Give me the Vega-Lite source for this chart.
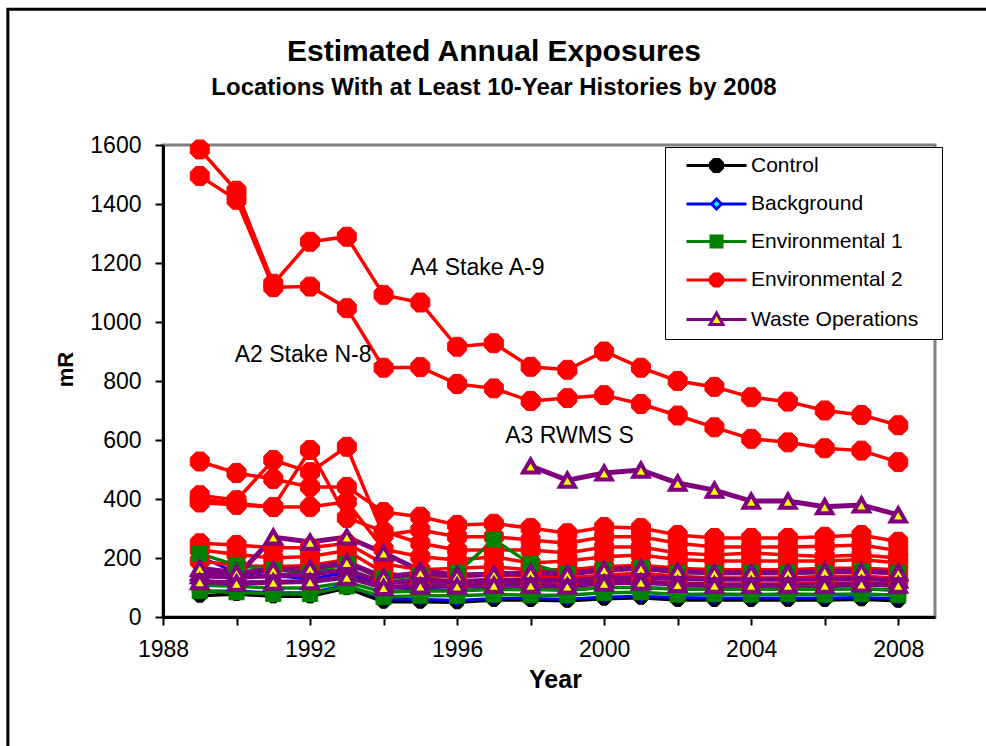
{
  "$schema": "https://vega.github.io/schema/vega-lite/v6.json",
  "width": 772,
  "height": 472,
  "autosize": {"type": "none"},
  "padding": {"left": 163, "top": 145, "right": 51, "bottom": 129},
  "background": "white",
  "title": {
    "text": "Estimated Annual Exposures",
    "subtitle": "Locations With at Least 10-Year Histories by 2008",
    "font": "Liberation Sans",
    "subtitleFont": "Liberation Sans",
    "fontSize": 30,
    "subtitleFontSize": 24,
    "fontWeight": "bold",
    "subtitleFontWeight": "bold",
    "color": "black",
    "subtitleColor": "black",
    "anchor": "middle",
    "dx": -55,
    "offset": -92,
    "subtitlePadding": 9
  },
  "config": {
    "view": {"stroke": "#808080", "strokeWidth": 3},
    "axis": {
      "grid": false,
      "domainColor": "black",
      "domainWidth": 3,
      "tickColor": "black",
      "tickWidth": 2,
      "tickSize": 8,
      "labelFont": "Liberation Sans",
      "labelFontSize": 23,
      "labelColor": "black",
      "titleFont": "Liberation Sans",
      "titleFontSize": 25,
      "titleFontWeight": "bold",
      "titleColor": "black",
      "labelOverlap": false,
      "labelFlush": false
    }
  },
  "data": {"values": [
    {"s":"C1","g":"Control","year":1989,"mR":72},{"s":"C1","g":"Control","year":1990,"mR":78},{"s":"C1","g":"Control","year":1991,"mR":70},{"s":"C1","g":"Control","year":1992,"mR":70},{"s":"C1","g":"Control","year":1993,"mR":98},{"s":"C1","g":"Control","year":1994,"mR":52},{"s":"C1","g":"Control","year":1995,"mR":52},{"s":"C1","g":"Control","year":1996,"mR":50},{"s":"C1","g":"Control","year":1997,"mR":58},{"s":"C1","g":"Control","year":1998,"mR":58},{"s":"C1","g":"Control","year":1999,"mR":55},{"s":"C1","g":"Control","year":2000,"mR":62},{"s":"C1","g":"Control","year":2001,"mR":65},{"s":"C1","g":"Control","year":2002,"mR":58},{"s":"C1","g":"Control","year":2003,"mR":58},{"s":"C1","g":"Control","year":2004,"mR":58},{"s":"C1","g":"Control","year":2005,"mR":58},{"s":"C1","g":"Control","year":2006,"mR":58},{"s":"C1","g":"Control","year":2007,"mR":60},{"s":"C1","g":"Control","year":2008,"mR":55},
    {"s":"B1","g":"Background","year":1989,"mR":205},{"s":"B1","g":"Background","year":1990,"mR":150},{"s":"B1","g":"Background","year":1991,"mR":140},{"s":"B1","g":"Background","year":1992,"mR":130},{"s":"B1","g":"Background","year":1993,"mR":150},{"s":"B1","g":"Background","year":1994,"mR":100},{"s":"B1","g":"Background","year":1995,"mR":95},{"s":"B1","g":"Background","year":1996,"mR":90},{"s":"B1","g":"Background","year":1997,"mR":95},{"s":"B1","g":"Background","year":1998,"mR":95},{"s":"B1","g":"Background","year":1999,"mR":90},{"s":"B1","g":"Background","year":2000,"mR":100},{"s":"B1","g":"Background","year":2001,"mR":100},{"s":"B1","g":"Background","year":2002,"mR":95},{"s":"B1","g":"Background","year":2003,"mR":95},{"s":"B1","g":"Background","year":2004,"mR":95},{"s":"B1","g":"Background","year":2005,"mR":95},{"s":"B1","g":"Background","year":2006,"mR":95},{"s":"B1","g":"Background","year":2007,"mR":95},{"s":"B1","g":"Background","year":2008,"mR":90},
    {"s":"B2","g":"Background","year":1989,"mR":88},{"s":"B2","g":"Background","year":1990,"mR":88},{"s":"B2","g":"Background","year":1991,"mR":82},{"s":"B2","g":"Background","year":1992,"mR":82},{"s":"B2","g":"Background","year":1993,"mR":108},{"s":"B2","g":"Background","year":1994,"mR":60},{"s":"B2","g":"Background","year":1995,"mR":60},{"s":"B2","g":"Background","year":1996,"mR":56},{"s":"B2","g":"Background","year":1997,"mR":63},{"s":"B2","g":"Background","year":1998,"mR":63},{"s":"B2","g":"Background","year":1999,"mR":60},{"s":"B2","g":"Background","year":2000,"mR":68},{"s":"B2","g":"Background","year":2001,"mR":70},{"s":"B2","g":"Background","year":2002,"mR":66},{"s":"B2","g":"Background","year":2003,"mR":64},{"s":"B2","g":"Background","year":2004,"mR":64},{"s":"B2","g":"Background","year":2005,"mR":64},{"s":"B2","g":"Background","year":2006,"mR":64},{"s":"B2","g":"Background","year":2007,"mR":66},{"s":"B2","g":"Background","year":2008,"mR":62},
    {"s":"A4","g":"Environmental 2","year":1989,"mR":1585},{"s":"A4","g":"Environmental 2","year":1990,"mR":1445},{"s":"A4","g":"Environmental 2","year":1991,"mR":1130},{"s":"A4","g":"Environmental 2","year":1992,"mR":1272},{"s":"A4","g":"Environmental 2","year":1993,"mR":1289},{"s":"A4","g":"Environmental 2","year":1994,"mR":1092},{"s":"A4","g":"Environmental 2","year":1995,"mR":1066},{"s":"A4","g":"Environmental 2","year":1996,"mR":916},{"s":"A4","g":"Environmental 2","year":1997,"mR":928},{"s":"A4","g":"Environmental 2","year":1998,"mR":848},{"s":"A4","g":"Environmental 2","year":1999,"mR":838},{"s":"A4","g":"Environmental 2","year":2000,"mR":900},{"s":"A4","g":"Environmental 2","year":2001,"mR":845},{"s":"A4","g":"Environmental 2","year":2002,"mR":800},{"s":"A4","g":"Environmental 2","year":2003,"mR":780},{"s":"A4","g":"Environmental 2","year":2004,"mR":745},{"s":"A4","g":"Environmental 2","year":2005,"mR":730},{"s":"A4","g":"Environmental 2","year":2006,"mR":700},{"s":"A4","g":"Environmental 2","year":2007,"mR":685},{"s":"A4","g":"Environmental 2","year":2008,"mR":650},
    {"s":"A2","g":"Environmental 2","year":1989,"mR":1495},{"s":"A2","g":"Environmental 2","year":1990,"mR":1414},{"s":"A2","g":"Environmental 2","year":1991,"mR":1118},{"s":"A2","g":"Environmental 2","year":1992,"mR":1120},{"s":"A2","g":"Environmental 2","year":1993,"mR":1047},{"s":"A2","g":"Environmental 2","year":1994,"mR":845},{"s":"A2","g":"Environmental 2","year":1995,"mR":847},{"s":"A2","g":"Environmental 2","year":1996,"mR":790},{"s":"A2","g":"Environmental 2","year":1997,"mR":775},{"s":"A2","g":"Environmental 2","year":1998,"mR":732},{"s":"A2","g":"Environmental 2","year":1999,"mR":742},{"s":"A2","g":"Environmental 2","year":2000,"mR":752},{"s":"A2","g":"Environmental 2","year":2001,"mR":722},{"s":"A2","g":"Environmental 2","year":2002,"mR":683},{"s":"A2","g":"Environmental 2","year":2003,"mR":643},{"s":"A2","g":"Environmental 2","year":2004,"mR":604},{"s":"A2","g":"Environmental 2","year":2005,"mR":592},{"s":"A2","g":"Environmental 2","year":2006,"mR":572},{"s":"A2","g":"Environmental 2","year":2007,"mR":564},{"s":"A2","g":"Environmental 2","year":2008,"mR":525},
    {"s":"R3","g":"Environmental 2","year":1989,"mR":527},{"s":"R3","g":"Environmental 2","year":1990,"mR":488},{"s":"R3","g":"Environmental 2","year":1991,"mR":468},{"s":"R3","g":"Environmental 2","year":1992,"mR":441},{"s":"R3","g":"Environmental 2","year":1993,"mR":441},{"s":"R3","g":"Environmental 2","year":1994,"mR":356},{"s":"R3","g":"Environmental 2","year":1995,"mR":340},{"s":"R3","g":"Environmental 2","year":1996,"mR":312},{"s":"R3","g":"Environmental 2","year":1997,"mR":316},{"s":"R3","g":"Environmental 2","year":1998,"mR":302},{"s":"R3","g":"Environmental 2","year":1999,"mR":284},{"s":"R3","g":"Environmental 2","year":2000,"mR":305},{"s":"R3","g":"Environmental 2","year":2001,"mR":302},{"s":"R3","g":"Environmental 2","year":2002,"mR":278},{"s":"R3","g":"Environmental 2","year":2003,"mR":268},{"s":"R3","g":"Environmental 2","year":2004,"mR":268},{"s":"R3","g":"Environmental 2","year":2005,"mR":268},{"s":"R3","g":"Environmental 2","year":2006,"mR":272},{"s":"R3","g":"Environmental 2","year":2007,"mR":278},{"s":"R3","g":"Environmental 2","year":2008,"mR":255},
    {"s":"R4","g":"Environmental 2","year":1989,"mR":413},{"s":"R4","g":"Environmental 2","year":1990,"mR":396},{"s":"R4","g":"Environmental 2","year":1991,"mR":532},{"s":"R4","g":"Environmental 2","year":1992,"mR":491},{"s":"R4","g":"Environmental 2","year":1993,"mR":577},{"s":"R4","g":"Environmental 2","year":1994,"mR":278},{"s":"R4","g":"Environmental 2","year":1995,"mR":295},{"s":"R4","g":"Environmental 2","year":1996,"mR":272},{"s":"R4","g":"Environmental 2","year":1997,"mR":272},{"s":"R4","g":"Environmental 2","year":1998,"mR":261},{"s":"R4","g":"Environmental 2","year":1999,"mR":250},{"s":"R4","g":"Environmental 2","year":2000,"mR":272},{"s":"R4","g":"Environmental 2","year":2001,"mR":272},{"s":"R4","g":"Environmental 2","year":2002,"mR":250},{"s":"R4","g":"Environmental 2","year":2003,"mR":237},{"s":"R4","g":"Environmental 2","year":2004,"mR":237},{"s":"R4","g":"Environmental 2","year":2005,"mR":237},{"s":"R4","g":"Environmental 2","year":2006,"mR":240},{"s":"R4","g":"Environmental 2","year":2007,"mR":244},{"s":"R4","g":"Environmental 2","year":2008,"mR":225},
    {"s":"R5","g":"Environmental 2","year":1989,"mR":388},{"s":"R5","g":"Environmental 2","year":1990,"mR":380},{"s":"R5","g":"Environmental 2","year":1991,"mR":373},{"s":"R5","g":"Environmental 2","year":1992,"mR":566},{"s":"R5","g":"Environmental 2","year":1993,"mR":336},{"s":"R5","g":"Environmental 2","year":1994,"mR":290},{"s":"R5","g":"Environmental 2","year":1995,"mR":250},{"s":"R5","g":"Environmental 2","year":1996,"mR":227},{"s":"R5","g":"Environmental 2","year":1997,"mR":227},{"s":"R5","g":"Environmental 2","year":1998,"mR":227},{"s":"R5","g":"Environmental 2","year":1999,"mR":217},{"s":"R5","g":"Environmental 2","year":2000,"mR":237},{"s":"R5","g":"Environmental 2","year":2001,"mR":237},{"s":"R5","g":"Environmental 2","year":2002,"mR":217},{"s":"R5","g":"Environmental 2","year":2003,"mR":210},{"s":"R5","g":"Environmental 2","year":2004,"mR":217},{"s":"R5","g":"Environmental 2","year":2005,"mR":210},{"s":"R5","g":"Environmental 2","year":2006,"mR":205},{"s":"R5","g":"Environmental 2","year":2007,"mR":210},{"s":"R5","g":"Environmental 2","year":2008,"mR":200},
    {"s":"R6","g":"Environmental 2","year":1989,"mR":400},{"s":"R6","g":"Environmental 2","year":1990,"mR":385},{"s":"R6","g":"Environmental 2","year":1991,"mR":373},{"s":"R6","g":"Environmental 2","year":1992,"mR":373},{"s":"R6","g":"Environmental 2","year":1993,"mR":391},{"s":"R6","g":"Environmental 2","year":1994,"mR":230},{"s":"R6","g":"Environmental 2","year":1995,"mR":204},{"s":"R6","g":"Environmental 2","year":1996,"mR":193},{"s":"R6","g":"Environmental 2","year":1997,"mR":204},{"s":"R6","g":"Environmental 2","year":1998,"mR":183},{"s":"R6","g":"Environmental 2","year":1999,"mR":190},{"s":"R6","g":"Environmental 2","year":2000,"mR":204},{"s":"R6","g":"Environmental 2","year":2001,"mR":210},{"s":"R6","g":"Environmental 2","year":2002,"mR":195},{"s":"R6","g":"Environmental 2","year":2003,"mR":190},{"s":"R6","g":"Environmental 2","year":2004,"mR":190},{"s":"R6","g":"Environmental 2","year":2005,"mR":190},{"s":"R6","g":"Environmental 2","year":2006,"mR":190},{"s":"R6","g":"Environmental 2","year":2007,"mR":195},{"s":"R6","g":"Environmental 2","year":2008,"mR":183},
    {"s":"R7","g":"Environmental 2","year":1989,"mR":250},{"s":"R7","g":"Environmental 2","year":1990,"mR":244},{"s":"R7","g":"Environmental 2","year":1991,"mR":235},{"s":"R7","g":"Environmental 2","year":1992,"mR":235},{"s":"R7","g":"Environmental 2","year":1993,"mR":250},{"s":"R7","g":"Environmental 2","year":1994,"mR":180},{"s":"R7","g":"Environmental 2","year":1995,"mR":160},{"s":"R7","g":"Environmental 2","year":1996,"mR":165},{"s":"R7","g":"Environmental 2","year":1997,"mR":170},{"s":"R7","g":"Environmental 2","year":1998,"mR":160},{"s":"R7","g":"Environmental 2","year":1999,"mR":160},{"s":"R7","g":"Environmental 2","year":2000,"mR":170},{"s":"R7","g":"Environmental 2","year":2001,"mR":175},{"s":"R7","g":"Environmental 2","year":2002,"mR":165},{"s":"R7","g":"Environmental 2","year":2003,"mR":160},{"s":"R7","g":"Environmental 2","year":2004,"mR":160},{"s":"R7","g":"Environmental 2","year":2005,"mR":160},{"s":"R7","g":"Environmental 2","year":2006,"mR":165},{"s":"R7","g":"Environmental 2","year":2007,"mR":165},{"s":"R7","g":"Environmental 2","year":2008,"mR":160},
    {"s":"R8","g":"Environmental 2","year":1989,"mR":228},{"s":"R8","g":"Environmental 2","year":1990,"mR":212},{"s":"R8","g":"Environmental 2","year":1991,"mR":200},{"s":"R8","g":"Environmental 2","year":1992,"mR":205},{"s":"R8","g":"Environmental 2","year":1993,"mR":225},{"s":"R8","g":"Environmental 2","year":1994,"mR":150},{"s":"R8","g":"Environmental 2","year":1995,"mR":135},{"s":"R8","g":"Environmental 2","year":1996,"mR":138},{"s":"R8","g":"Environmental 2","year":1997,"mR":142},{"s":"R8","g":"Environmental 2","year":1998,"mR":138},{"s":"R8","g":"Environmental 2","year":1999,"mR":132},{"s":"R8","g":"Environmental 2","year":2000,"mR":142},{"s":"R8","g":"Environmental 2","year":2001,"mR":148},{"s":"R8","g":"Environmental 2","year":2002,"mR":138},{"s":"R8","g":"Environmental 2","year":2003,"mR":132},{"s":"R8","g":"Environmental 2","year":2004,"mR":132},{"s":"R8","g":"Environmental 2","year":2005,"mR":132},{"s":"R8","g":"Environmental 2","year":2006,"mR":138},{"s":"R8","g":"Environmental 2","year":2007,"mR":138},{"s":"R8","g":"Environmental 2","year":2008,"mR":132},
    {"s":"R9","g":"Environmental 2","year":1989,"mR":190},{"s":"R9","g":"Environmental 2","year":1990,"mR":175},{"s":"R9","g":"Environmental 2","year":1991,"mR":170},{"s":"R9","g":"Environmental 2","year":1992,"mR":175},{"s":"R9","g":"Environmental 2","year":1993,"mR":195},{"s":"R9","g":"Environmental 2","year":1994,"mR":120},{"s":"R9","g":"Environmental 2","year":1995,"mR":112},{"s":"R9","g":"Environmental 2","year":1996,"mR":112},{"s":"R9","g":"Environmental 2","year":1997,"mR":118},{"s":"R9","g":"Environmental 2","year":1998,"mR":112},{"s":"R9","g":"Environmental 2","year":1999,"mR":112},{"s":"R9","g":"Environmental 2","year":2000,"mR":118},{"s":"R9","g":"Environmental 2","year":2001,"mR":122},{"s":"R9","g":"Environmental 2","year":2002,"mR":114},{"s":"R9","g":"Environmental 2","year":2003,"mR":112},{"s":"R9","g":"Environmental 2","year":2004,"mR":112},{"s":"R9","g":"Environmental 2","year":2005,"mR":112},{"s":"R9","g":"Environmental 2","year":2006,"mR":114},{"s":"R9","g":"Environmental 2","year":2007,"mR":114},{"s":"R9","g":"Environmental 2","year":2008,"mR":112},
    {"s":"G1","g":"Environmental 1","year":1989,"mR":88},{"s":"G1","g":"Environmental 1","year":1990,"mR":84},{"s":"G1","g":"Environmental 1","year":1991,"mR":78},{"s":"G1","g":"Environmental 1","year":1992,"mR":78},{"s":"G1","g":"Environmental 1","year":1993,"mR":104},{"s":"G1","g":"Environmental 1","year":1994,"mR":68},{"s":"G1","g":"Environmental 1","year":1995,"mR":72},{"s":"G1","g":"Environmental 1","year":1996,"mR":72},{"s":"G1","g":"Environmental 1","year":1997,"mR":76},{"s":"G1","g":"Environmental 1","year":1998,"mR":74},{"s":"G1","g":"Environmental 1","year":1999,"mR":74},{"s":"G1","g":"Environmental 1","year":2000,"mR":82},{"s":"G1","g":"Environmental 1","year":2001,"mR":84},{"s":"G1","g":"Environmental 1","year":2002,"mR":76},{"s":"G1","g":"Environmental 1","year":2003,"mR":78},{"s":"G1","g":"Environmental 1","year":2004,"mR":76},{"s":"G1","g":"Environmental 1","year":2005,"mR":78},{"s":"G1","g":"Environmental 1","year":2006,"mR":76},{"s":"G1","g":"Environmental 1","year":2007,"mR":78},{"s":"G1","g":"Environmental 1","year":2008,"mR":74},
    {"s":"G2","g":"Environmental 1","year":1989,"mR":108},{"s":"G2","g":"Environmental 1","year":1990,"mR":104},{"s":"G2","g":"Environmental 1","year":1991,"mR":98},{"s":"G2","g":"Environmental 1","year":1992,"mR":98},{"s":"G2","g":"Environmental 1","year":1993,"mR":118},{"s":"G2","g":"Environmental 1","year":1994,"mR":84},{"s":"G2","g":"Environmental 1","year":1995,"mR":88},{"s":"G2","g":"Environmental 1","year":1996,"mR":88},{"s":"G2","g":"Environmental 1","year":1997,"mR":94},{"s":"G2","g":"Environmental 1","year":1998,"mR":92},{"s":"G2","g":"Environmental 1","year":1999,"mR":92},{"s":"G2","g":"Environmental 1","year":2000,"mR":100},{"s":"G2","g":"Environmental 1","year":2001,"mR":100},{"s":"G2","g":"Environmental 1","year":2002,"mR":94},{"s":"G2","g":"Environmental 1","year":2003,"mR":94},{"s":"G2","g":"Environmental 1","year":2004,"mR":94},{"s":"G2","g":"Environmental 1","year":2005,"mR":94},{"s":"G2","g":"Environmental 1","year":2006,"mR":94},{"s":"G2","g":"Environmental 1","year":2007,"mR":96},{"s":"G2","g":"Environmental 1","year":2008,"mR":92},
    {"s":"G3","g":"Environmental 1","year":1989,"mR":215},{"s":"G3","g":"Environmental 1","year":1990,"mR":175},{"s":"G3","g":"Environmental 1","year":1991,"mR":160},{"s":"G3","g":"Environmental 1","year":1992,"mR":150},{"s":"G3","g":"Environmental 1","year":1993,"mR":180},{"s":"G3","g":"Environmental 1","year":1994,"mR":130},{"s":"G3","g":"Environmental 1","year":1995,"mR":140},{"s":"G3","g":"Environmental 1","year":1996,"mR":150},{"s":"G3","g":"Environmental 1","year":1997,"mR":262},{"s":"G3","g":"Environmental 1","year":1998,"mR":180},{"s":"G3","g":"Environmental 1","year":1999,"mR":145},{"s":"G3","g":"Environmental 1","year":2000,"mR":160},{"s":"G3","g":"Environmental 1","year":2001,"mR":165},{"s":"G3","g":"Environmental 1","year":2002,"mR":150},{"s":"G3","g":"Environmental 1","year":2003,"mR":150},{"s":"G3","g":"Environmental 1","year":2004,"mR":150},{"s":"G3","g":"Environmental 1","year":2005,"mR":150},{"s":"G3","g":"Environmental 1","year":2006,"mR":150},{"s":"G3","g":"Environmental 1","year":2007,"mR":155},{"s":"G3","g":"Environmental 1","year":2008,"mR":150},
    {"s":"W1","g":"Waste Operations","year":1998,"mR":512},{"s":"W1","g":"Waste Operations","year":1999,"mR":464},{"s":"W1","g":"Waste Operations","year":2000,"mR":488},{"s":"W1","g":"Waste Operations","year":2001,"mR":498},{"s":"W1","g":"Waste Operations","year":2002,"mR":454},{"s":"W1","g":"Waste Operations","year":2003,"mR":430},{"s":"W1","g":"Waste Operations","year":2004,"mR":393},{"s":"W1","g":"Waste Operations","year":2005,"mR":393},{"s":"W1","g":"Waste Operations","year":2006,"mR":374},{"s":"W1","g":"Waste Operations","year":2007,"mR":380},{"s":"W1","g":"Waste Operations","year":2008,"mR":346},
    {"s":"W2","g":"Waste Operations","year":1989,"mR":150},{"s":"W2","g":"Waste Operations","year":1990,"mR":136},{"s":"W2","g":"Waste Operations","year":1991,"mR":271},{"s":"W2","g":"Waste Operations","year":1992,"mR":254},{"s":"W2","g":"Waste Operations","year":1993,"mR":271},{"s":"W2","g":"Waste Operations","year":1994,"mR":217},{"s":"W2","g":"Waste Operations","year":1995,"mR":158},{"s":"W2","g":"Waste Operations","year":1996,"mR":142},{"s":"W2","g":"Waste Operations","year":1997,"mR":145},{"s":"W2","g":"Waste Operations","year":1998,"mR":150},{"s":"W2","g":"Waste Operations","year":1999,"mR":148},{"s":"W2","g":"Waste Operations","year":2000,"mR":160},{"s":"W2","g":"Waste Operations","year":2001,"mR":165},{"s":"W2","g":"Waste Operations","year":2002,"mR":155},{"s":"W2","g":"Waste Operations","year":2003,"mR":150},{"s":"W2","g":"Waste Operations","year":2004,"mR":150},{"s":"W2","g":"Waste Operations","year":2005,"mR":150},{"s":"W2","g":"Waste Operations","year":2006,"mR":155},{"s":"W2","g":"Waste Operations","year":2007,"mR":155},{"s":"W2","g":"Waste Operations","year":2008,"mR":150},
    {"s":"W3","g":"Waste Operations","year":1989,"mR":140},{"s":"W3","g":"Waste Operations","year":1990,"mR":135},{"s":"W3","g":"Waste Operations","year":1991,"mR":140},{"s":"W3","g":"Waste Operations","year":1992,"mR":145},{"s":"W3","g":"Waste Operations","year":1993,"mR":160},{"s":"W3","g":"Waste Operations","year":1994,"mR":115},{"s":"W3","g":"Waste Operations","year":1995,"mR":125},{"s":"W3","g":"Waste Operations","year":1996,"mR":120},{"s":"W3","g":"Waste Operations","year":1997,"mR":125},{"s":"W3","g":"Waste Operations","year":1998,"mR":125},{"s":"W3","g":"Waste Operations","year":1999,"mR":125},{"s":"W3","g":"Waste Operations","year":2000,"mR":130},{"s":"W3","g":"Waste Operations","year":2001,"mR":135},{"s":"W3","g":"Waste Operations","year":2002,"mR":130},{"s":"W3","g":"Waste Operations","year":2003,"mR":128},{"s":"W3","g":"Waste Operations","year":2004,"mR":128},{"s":"W3","g":"Waste Operations","year":2005,"mR":128},{"s":"W3","g":"Waste Operations","year":2006,"mR":128},{"s":"W3","g":"Waste Operations","year":2007,"mR":130},{"s":"W3","g":"Waste Operations","year":2008,"mR":125},
    {"s":"W4","g":"Waste Operations","year":1989,"mR":165},{"s":"W4","g":"Waste Operations","year":1990,"mR":150},{"s":"W4","g":"Waste Operations","year":1991,"mR":160},{"s":"W4","g":"Waste Operations","year":1992,"mR":165},{"s":"W4","g":"Waste Operations","year":1993,"mR":185},{"s":"W4","g":"Waste Operations","year":1994,"mR":135},{"s":"W4","g":"Waste Operations","year":1995,"mR":150},{"s":"W4","g":"Waste Operations","year":1996,"mR":140},{"s":"W4","g":"Waste Operations","year":1997,"mR":145},{"s":"W4","g":"Waste Operations","year":1998,"mR":150},{"s":"W4","g":"Waste Operations","year":1999,"mR":145},{"s":"W4","g":"Waste Operations","year":2000,"mR":160},{"s":"W4","g":"Waste Operations","year":2001,"mR":165},{"s":"W4","g":"Waste Operations","year":2002,"mR":155},{"s":"W4","g":"Waste Operations","year":2003,"mR":150},{"s":"W4","g":"Waste Operations","year":2004,"mR":150},{"s":"W4","g":"Waste Operations","year":2005,"mR":150},{"s":"W4","g":"Waste Operations","year":2006,"mR":155},{"s":"W4","g":"Waste Operations","year":2007,"mR":155},{"s":"W4","g":"Waste Operations","year":2008,"mR":150},
    {"s":"W5","g":"Waste Operations","year":1989,"mR":120},{"s":"W5","g":"Waste Operations","year":1990,"mR":115},{"s":"W5","g":"Waste Operations","year":1991,"mR":118},{"s":"W5","g":"Waste Operations","year":1992,"mR":120},{"s":"W5","g":"Waste Operations","year":1993,"mR":135},{"s":"W5","g":"Waste Operations","year":1994,"mR":100},{"s":"W5","g":"Waste Operations","year":1995,"mR":105},{"s":"W5","g":"Waste Operations","year":1996,"mR":105},{"s":"W5","g":"Waste Operations","year":1997,"mR":108},{"s":"W5","g":"Waste Operations","year":1998,"mR":108},{"s":"W5","g":"Waste Operations","year":1999,"mR":105},{"s":"W5","g":"Waste Operations","year":2000,"mR":115},{"s":"W5","g":"Waste Operations","year":2001,"mR":118},{"s":"W5","g":"Waste Operations","year":2002,"mR":110},{"s":"W5","g":"Waste Operations","year":2003,"mR":108},{"s":"W5","g":"Waste Operations","year":2004,"mR":108},{"s":"W5","g":"Waste Operations","year":2005,"mR":108},{"s":"W5","g":"Waste Operations","year":2006,"mR":108},{"s":"W5","g":"Waste Operations","year":2007,"mR":112},{"s":"W5","g":"Waste Operations","year":2008,"mR":108}
  ]},
  "layer": [
    {
      "data": {"values": [{"f": "frame"}]},
      "mark": {"type": "rect", "fill": "transparent", "stroke": "black", "strokeWidth": 3, "clip": false},
      "encoding": {
        "x": {"datum": 1983.78, "type": "quantitative"},
        "x2": {"datum": 2040},
        "y": {"datum": 2060, "type": "quantitative"},
        "y2": {"datum": -2000}
      }
    },
    {
      "mark": {"type": "line"},
      "encoding": {
        "x": {
          "field": "year", "type": "quantitative",
          "scale": {"domain": [1988, 2009], "nice": false, "zero": false},
          "axis": {
            "title": "Year",
            "titleX": 392,
            "values": [1988,1989,1990,1991,1992,1993,1994,1995,1996,1997,1998,1999,2000,2001,2002,2003,2004,2005,2006,2007,2008,2009],
            "format": "d",
            "labelExpr": "(datum.value - 1988) % 4 == 0 ? datum.label : ''",
            "labelPadding": 13,
            "titlePadding": 6
          }
        },
        "y": {
          "field": "mR", "type": "quantitative",
          "scale": {"domain": [0, 1600], "nice": false},
          "axis": {
            "title": "mR",
            "titleFontSize": 22,
            "titleY": 224,
            "values": [0,100,200,300,400,500,600,700,800,900,1000,1100,1200,1300,1400,1500,1600],
            "labelExpr": "datum.value % 200 == 0 ? datum.label : ''",
            "format": "d",
            "labelPadding": 14,
            "titlePadding": 12
          }
        },
        "stroke": {
          "condition": [
            {"test": "datum.g === 'Control'", "value": "#000000"},
            {"test": "datum.g === 'Background'", "value": "#0000ff"},
            {"test": "datum.g === 'Environmental 1'", "value": "#008000"},
            {"test": "datum.g === 'Environmental 2'", "value": "#ff0000"}
          ],
          "value": "#800080"
        },
        "strokeWidth": {
          "condition": [
            {"test": "datum.g === 'Background'", "value": 3},
            {"test": "datum.g === 'Waste Operations'", "value": 5}
          ],
          "value": 3.5
        },
        "detail": {"field": "s"}
      }
    },
    {
      "mark": {"type": "point", "filled": true, "opacity": 1},
      "encoding": {
        "x": {"field": "year", "type": "quantitative"},
        "y": {"field": "mR", "type": "quantitative"},
        "shape": {
          "condition": [
            {"test": "datum.g === 'Background'", "value": "diamond"},
            {"test": "datum.g === 'Environmental 1'", "value": "square"},
            {"test": "datum.g === 'Waste Operations'", "value": "triangle-up"}
          ],
          "value": "M0.924,0.383L0.383,0.924L-0.383,0.924L-0.924,0.383L-0.924,-0.383L-0.383,-0.924L0.383,-0.924L0.924,-0.383Z"
        },
        "fill": {
          "condition": [
            {"test": "datum.g === 'Control'", "value": "#000000"},
            {"test": "datum.g === 'Background'", "value": "#00ffff"},
            {"test": "datum.g === 'Environmental 1'", "value": "#008000"},
            {"test": "datum.g === 'Environmental 2'", "value": "#ff0000"}
          ],
          "value": "#ffff00"
        },
        "stroke": {
          "condition": [
            {"test": "datum.g === 'Control'", "value": "#000000"},
            {"test": "datum.g === 'Background'", "value": "#0000ff"},
            {"test": "datum.g === 'Environmental 1'", "value": "#008000"},
            {"test": "datum.g === 'Environmental 2'", "value": "#ff0000"}
          ],
          "value": "#800080"
        },
        "size": {
          "condition": [
            {"test": "datum.g === 'Control'", "value": 200},
            {"test": "datum.g === 'Background'", "value": 110},
            {"test": "datum.g === 'Environmental 1'", "value": 230},
            {"test": "datum.g === 'Environmental 2'", "value": 420}
          ],
          "value": 230
        },
        "strokeWidth": {
          "condition": [
            {"test": "datum.g === 'Control'", "value": 1},
            {"test": "datum.g === 'Background'", "value": 2},
            {"test": "datum.g === 'Environmental 1'", "value": 1},
            {"test": "datum.g === 'Environmental 2'", "value": 1}
          ],
          "value": 4
        }
      }
    },
    {
      "transform": [{"filter": "false"}],
      "mark": {"type": "point", "filled": true},
      "encoding": {
        "x": {"field": "year", "type": "quantitative"},
        "y": {"field": "mR", "type": "quantitative"},
        "shape": {
          "field": "g", "type": "nominal",
          "scale": {"domain": ["Control","Background","Environmental 1","Environmental 2","Waste Operations"],
                    "range": ["M-6,0H-1.2M1.2,0H6M1.2,0.5L0.5,1.2L-0.5,1.2L-1.2,0.5L-1.2,-0.5L-0.5,-1.2L0.5,-1.2L1.2,-0.5Z","M-6,0H-1M1,0H6M0,-1L1,0L0,1L-1,0Z","M-6,0H-1.1M1.1,0H6M-1.1,-1.1H1.1V1.1H-1.1Z","M-6,0H-1.2M1.2,0H6M1.2,0.5L0.5,1.2L-0.5,1.2L-1.2,0.5L-1.2,-0.5L-0.5,-1.2L0.5,-1.2L1.2,-0.5Z","M-6,0H-0.75M0.75,0H6M0,-1.3L1.3,1L-1.3,1Z"]},
          "legend": {"title": null, "orient": "none", "legendX": 502, "legendY": 2, "padding": 8, "rowPadding": 14.5, "symbolOffset": 33, "labelOffset": 24, "symbolSize": 100, "symbolStrokeWidth": 3, "symbolOpacity": 1, "labelFont": "Liberation Sans", "labelFontSize": 21, "labelColor": "black", "labelLimit": 400, "fillColor": "white", "strokeColor": "black", "labelExpr": "datum.label + '\u2800'"}
        },
        "fill": {
          "field": "g", "type": "nominal",
          "scale": {"domain": ["Control","Background","Environmental 1","Environmental 2","Waste Operations"], "range": ["#000000","#00ffff","#008000","#ff0000","#ffff00"]},
          "legend": {"title": null, "orient": "none", "legendX": 502, "legendY": 2, "padding": 8, "rowPadding": 14.5, "symbolOffset": 33, "labelOffset": 24, "symbolSize": 100, "symbolStrokeWidth": 3, "symbolOpacity": 1, "labelFont": "Liberation Sans", "labelFontSize": 21, "labelColor": "black", "labelLimit": 400, "fillColor": "white", "strokeColor": "black", "labelExpr": "datum.label + '\u2800'"}
        },
        "stroke": {
          "field": "g", "type": "nominal",
          "scale": {"domain": ["Control","Background","Environmental 1","Environmental 2","Waste Operations"], "range": ["#000000","#0000ff","#008000","#ff0000","#800080"]},
          "legend": {"title": null, "orient": "none", "legendX": 502, "legendY": 2, "padding": 8, "rowPadding": 14.5, "symbolOffset": 33, "labelOffset": 24, "symbolSize": 100, "symbolStrokeWidth": 3, "symbolOpacity": 1, "labelFont": "Liberation Sans", "labelFontSize": 21, "labelColor": "black", "labelLimit": 400, "fillColor": "white", "strokeColor": "black", "labelExpr": "datum.label + '\u2800'"}
        }
      }
    },
    {
      "data": {"values": [
        {"label": "A4 Stake A-9", "year": 1996.55, "mR": 1183},
        {"label": "A2 Stake N-8", "year": 1991.81, "mR": 888},
        {"label": "A3 RWMS S", "year": 1999.06, "mR": 614}
      ]},
      "mark": {"type": "text", "font": "Liberation Sans", "fontSize": 23, "color": "black", "align": "center", "baseline": "middle"},
      "encoding": {
        "x": {"field": "year", "type": "quantitative"},
        "y": {"field": "mR", "type": "quantitative"},
        "text": {"field": "label"}
      }
    }
  ]
}
